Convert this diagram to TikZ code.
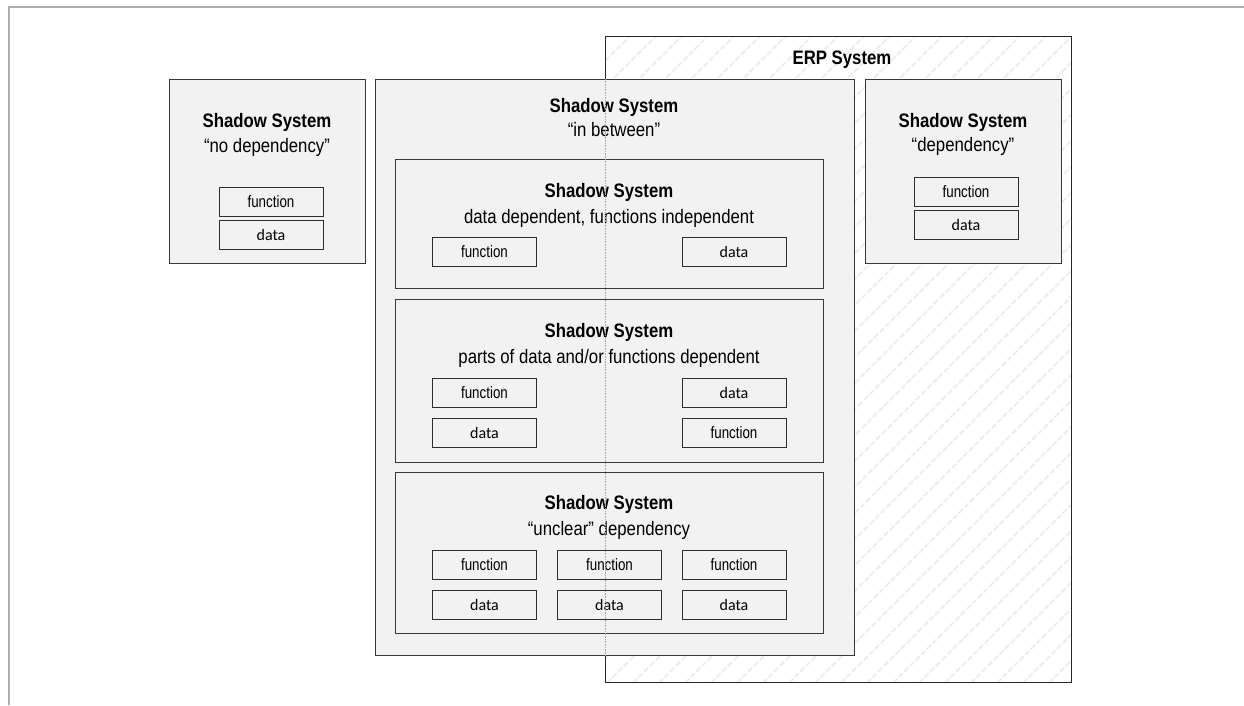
\documentclass[tikz,border=0pt]{standalone}
\usepackage{fontspec}
\setmainfont[FakeStretch=0.86]{Liberation Sans}
\newfontfamily\fnfont[FakeStretch=0.81]{Liberation Sans}
\newfontfamily\datafont{Carlito}
\definecolor{panel}{HTML}{F2F2F2}
\definecolor{hatchgray}{HTML}{EFEFEF}
\tikzset{
  frame/.style={draw=black!78, fill=panel, line width=0.9pt, inner sep=0pt, anchor=north west},
  cell/.style={draw=black!82, fill=panel, line width=0.9pt, inner sep=0pt,
               minimum width=104pt, minimum height=29pt},
  fn/.style={cell, font=\fnfont\fontsize{16.5}{18}\selectfont},
  dt/.style={cell, font=\datafont\fontsize{16}{18}\selectfont},
  title/.style={font=\bfseries\fontsize{19.5}{22}\selectfont, inner sep=0pt, anchor=base},
  sub/.style={font=\fontsize{19.5}{22}\selectfont, inner sep=0pt, anchor=base},
  hatch/.style={draw=hatchgray, line width=2.2pt, dash pattern=on 6pt off 2pt},
}
\begin{document}
\begin{tikzpicture}[x=1pt,y=-1pt]
\useasboundingbox (0,0) rectangle (1244,705);
% page frame
\draw[black!32, line width=2pt] (9,705) -- (9,7) -- (1244,7);

% ERP system area with light hatching
\begin{scope}
  \clip (605,36) rectangle (1071,682);
  \foreach \x in {-60,-34,...,1090}
    \draw[hatch] (\x,700) -- ++(720,-720);
\end{scope}
\node[draw=black!85, line width=1pt, inner sep=0pt, anchor=north west,
      minimum width=466pt, minimum height=646pt] (erp) at (605,36) {};
\node[title] (erpT) at (842,64) {ERP System};

% shadow system without dependency
\node[frame, minimum width=196pt, minimum height=184pt] (left) at (169,79) {};
\node[title] (leftT) at (267,127) {Shadow System};
\node[sub] (leftS) at (267,152) {“no dependency”};
\node[fn] (leftF) at (271,201.5) {function};
\node[dt] (leftD) at (271,234.5) {data};

% shadow system with dependency
\node[frame, minimum width=196pt, minimum height=184pt] (right) at (865,79) {};
\node[title] (rightT) at (963,127) {Shadow System};
\node[sub] (rightS) at (963,151) {“dependency”};
\node[fn] (rightF) at (966,191.5) {function};
\node[dt] (rightD) at (966,224.5) {data};

% shadow system in between
\node[frame, minimum width=479pt, minimum height=576pt] (mid) at (375,79) {};
\node[title] (midT) at (614,112) {Shadow System};
\node[sub] (midS) at (614,136) {“in between”};

% data dependent, functions independent
\node[frame, minimum width=428pt, minimum height=129pt] (s1) at (395,159) {};
\node[title] (s1T) at (609,197) {Shadow System};
\node[sub] (s1S) at (609,223) {data dependent, functions independent};
\node[fn] (s1F) at (484.5,252) {function};
\node[dt] (s1D) at (734,252) {data};

% parts of data and/or functions dependent
\node[frame, minimum width=428pt, minimum height=163pt] (s2) at (395,299) {};
\node[title] (s2T) at (609,337) {Shadow System};
\node[sub] (s2S) at (609,363) {parts of data and/or functions dependent};
\node[fn] (s2F1) at (484.5,392.5) {function};
\node[dt] (s2D1) at (484.5,432.5) {data};
\node[dt] (s2D2) at (734,392.5) {data};
\node[fn] (s2F2) at (734,432.5) {function};

% unclear dependency
\node[frame, minimum width=428pt, minimum height=161pt] (s3) at (395,472) {};
\node[title] (s3T) at (609,509) {Shadow System};
\node[sub] (s3S) at (609,535) {“unclear” dependency};
\node[fn] (s3F1) at (484.5,565) {function};
\node[fn] (s3F2) at (609.5,565) {function};
\node[fn] (s3F3) at (734,565) {function};
\node[dt] (s3D1) at (484.5,605) {data};
\node[dt] (s3D2) at (609.5,605) {data};
\node[dt] (s3D3) at (734,605) {data};

% ERP boundary running through the overlapping system
\draw[black!35, line width=0.6pt, densely dotted]
  (erp.west |- mid.north) -- (erp.west |- mid.south);
\end{tikzpicture}
\end{document}
